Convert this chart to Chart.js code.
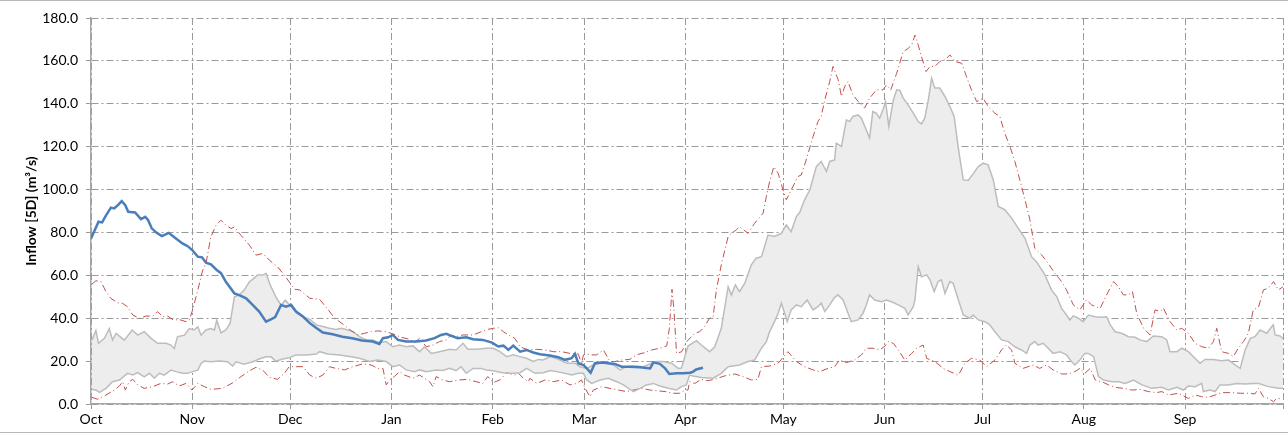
<!DOCTYPE html>
<html>
<head>
<meta charset="utf-8">
<script src="https://cdn.jsdelivr.net/npm/chart.js@4.4.1/dist/chart.umd.min.js"></script>
<style>
html,body{margin:0;padding:0;background:#fff;}
#wrap{width:1288px;height:435px;position:relative;}
</style>
</head>
<body>
<div id="wrap"><canvas id="c" width="1288" height="435"></canvas></div>
<script>
// Month ticks (day index from 1 Oct) and labels
const monthStarts = [0,31,61,92,123,151,182,212,243,273,304,335,365];
const monthLabels = ['Oct','Nov','Dec','Jan','Feb','Mar','Apr','May','Jun','Jul','Aug','Sep',''];

// Current year (blue)
const blueDays = [0,2.3,3.4,4.6,6.1,7.1,8.4,9.4,10.5,11.4,13.5,15.3,16.6,17.5,18.6,20.1,21.7,23.8,26,28,29.6,31,32.7,34,35.2,36.7,38.5,39.8,41.3,43.9,45.4,47.5,49.5,51.5,53.6,55.1,56.4,58.2,59.7,61.3,62.8,64.9,67,69,71,74,77,80,83,86.3,88.3,89.4,91,92.4,94,96.5,99.6,102.6,105.2,107.2,108.8,110.3,112.3,114.9,117,120,122.8,124.7,126.3,127.8,129.3,131.4,133.4,135.4,137.5,140.5,143.1,145.1,147.2,148.2,149.2,150.8,151.8,153,154.3,156.4,158.4,160.4,162.5,165,168.1,171.2,172.2,174.2,175.8,177.1,179.3,181.4,183.4,184.3,185.3,187.4];
const blueVals = [77.2,85,84.7,88,91.6,91.2,93,94.6,92.7,89.6,89.3,86.2,87.3,85.7,81.9,79.8,78.3,79.8,77.2,74.9,73.6,71.8,68.7,68.4,65.9,65.1,62.5,61,57,51.6,50.8,49.3,46.2,43.1,38.4,39.5,40.5,46.2,45.4,46.2,43.1,40.8,37.7,35.4,33.3,32.5,31.4,30.7,29.6,29.1,28,30.7,31.1,32.2,29.9,29.1,29.1,29.6,30.7,32.2,32.7,31.8,30.7,31.1,30.2,29.9,28.6,26.8,27.2,25.2,27.2,24.4,25.2,24,23.2,22.6,21.8,20.6,21.4,23.4,19,18.2,16.6,14.6,19,19.3,19,18.7,17.4,17.4,17.1,16.6,19.4,18.7,16.6,14,14.3,14.3,14.6,15,16.1,16.9];

// Upper grey band edge
const upperDays = [0.3,1.5,2.3,4.1,5.6,6.6,7.7,10.2,12.6,14.3,16.3,18.4,20.4,23,24.5,25.5,26.5,28.6,30.1,31.6,32.7,33.7,35.2,36.7,37.8,38.5,39.8,41.3,42.6,43.9,45.4,46.9,48.5,49.5,51,52.6,53.6,55.1,56.6,58.2,59.5,61.3,62.8,64.9,67,69,71,73,75,76.6,78.7,80.2,82.2,84.3,86.3,88.3,90.4,92.4,94.5,96.5,98.6,100.6,102.1,104.2,106.7,109.8,111.8,113.9,115.4,117.9,121,123.2,125.2,127.3,129.3,131.4,133.4,135.4,137,138.5,140.6,143.1,145.7,148.2,149.7,151.8,153.8,155.9,157.9,160,162,164,166.6,169.1,171.7,173.2,175.2,177.8,179.8,180.8,182.8,185.4,186.9,189.4,191,193,195.1,196.1,197.3,198.6,200.2,202.2,203.7,205.3,207.3,209.3,211.4,212.9,214.4,216,217,218.5,220.1,222.1,223.6,225.2,226.2,227.7,228.2,229.8,231.3,232.3,233.3,234.9,235.9,237.4,238.4,239.4,240.5,241.5,242.5,243.3,244.3,245.7,246.7,247.7,248.7,250.2,251.8,253.3,254.3,255.3,256.4,257.4,258.4,259.9,261.5,263,264.3,265.5,267.1,268.6,270.1,271.7,273.2,274.7,276.3,277.8,279.8,281.9,283.9,286,288,289.5,292.1,294.1,295.7,297.2,298.7,299.7,300.8,302.3,303.8,305.4,307.5,309.5,311,312.1,313.6,315.6,317.7,319.7,321.2,323.3,325.3,327.9,329.4,330.4,332.5,334,336,338.1,339.6,341.1,343.7,346.2,348.3,350.3,351.9,353.4,355,356.4,358,360,362,362.6,364.1,365];
const upperVals = [29.8,34.2,28.3,30.6,35.2,29.8,32.9,29.8,34.5,32.1,33.7,30.6,28.3,28.3,27.5,25.9,31.4,32.1,35.2,34.5,36,32.1,34.5,35.2,34.5,39.1,33.2,34.5,37.6,50,50.8,53.1,57,58.1,60.1,60.1,60.9,54.7,50,46.1,48.4,45.4,42.6,40.7,39.5,36.9,36.1,35.3,34.8,35.3,34.5,33.7,31.4,29.9,29.9,28.6,29.1,26.7,27.5,26.7,27.1,24.4,26.7,23.6,24.4,25.5,25.2,28.3,25.5,25.5,26,26,24.4,22.1,22.9,22.1,21.3,19.8,20.8,20.5,22.1,20.8,19,19,17.4,16.6,18.2,19,19,18.2,15.9,17.4,17.7,17.4,19,19.8,19.8,19,16.6,16.8,27,29.5,27.5,24.4,26.7,35.3,54.7,50.8,55.5,52.4,56.3,64.9,68,68.7,78.8,78.1,79.6,83.5,80.4,87.4,89.3,95.2,99.8,110.7,113.1,108.4,113.1,113.8,121.6,120.1,132.5,131.7,134.1,134.8,133.3,127.8,124,136.4,135.6,133.3,137.2,141,129.4,141.8,146.5,146.2,142.6,139.5,135.6,131.7,130.6,133.3,141.8,151.9,147.3,147.3,143.4,138.7,134.1,120.1,104.5,104.2,107.3,110.7,112.3,111.5,104.5,92.1,90.6,86.7,82,77.3,68.7,66.4,60.2,53.2,50.1,44.6,41.5,39.2,41.1,40,38.4,41.5,40.7,40.4,40.7,36.9,33.7,33,31.4,31.1,29.9,29.1,31.7,31.4,29.9,24.4,24.4,26,24.4,21.2,19,20.8,20.8,20.2,20.5,18.2,16.6,25.2,30.6,31.4,34.5,33,36.9,32.2,31.7,30.6];

// Lower grey band edge
const lowerDays = [0.3,1.5,2.6,4.6,6.6,8.7,11.2,12.8,14.3,16.3,17.9,19.4,20.9,22.4,24.5,26,28.1,29.6,31.1,32.7,33.7,34.7,36.7,39.3,41.8,43.4,44.4,46.9,49.5,51.5,53.6,55.1,56.6,58.7,60.7,62.8,65.9,69,70,72.5,76.1,79.2,82.2,85.3,87.8,90.4,92.4,94.5,96.5,99.1,100.6,102.7,105.7,107.7,109.8,111.8,113.3,114.9,117,119.5,121,123.2,125.2,127.3,129.3,131.4,133.4,136,138.5,140.6,142.6,145.1,147.2,149.2,150.8,151.8,153.3,155.9,158.4,161,163,166.1,168.1,170.1,172.2,174.2,176.8,179.3,180.8,182.3,183.3,184.3,186.9,190.5,193,195.1,198.6,201.2,203.2,205.3,206.8,207.8,209.3,210.4,211.4,212.4,213.2,214.4,216,217.5,219.3,221.1,222.6,223.6,224.7,226.2,227.5,228.7,230.3,231.8,232.8,234.9,236.4,237.4,238.4,240,242,243.6,245.1,247.2,249.2,250.2,251.8,252.3,253.3,254.3,255.9,256.9,258.2,259.4,260.4,261.5,263,264,265.6,267.1,269.1,270.1,271.7,273.7,275.2,276.8,278.8,280.9,282.9,284.9,286.5,287.5,289,290,291.6,293.1,294.6,296.7,298.7,300.2,301.3,302.8,304.3,305.4,307,308.5,310,312.6,314.6,316.7,319.2,321.8,324.8,327.9,329.9,332.5,334.5,336,338.1,340.1,340.6,342.7,344.2,345.7,348.3,350.8,353.4,355.9,357.5,360.5,363.6,365];
const lowerVals = [6.8,6.5,5.4,7.3,10.4,11.2,14.3,13.5,14.6,12.7,14.3,12,14.3,13.5,15.8,15.1,14.3,14.3,15.1,15.8,18.9,20,19.7,20,19.7,17.7,19.7,18.6,19.7,21,22,22,20,21,21.6,22.9,22.9,23.3,24.4,23.3,22.9,22.1,21.3,19.8,20.5,19.8,17.4,18.2,15.9,15.1,15.9,15.1,15.9,15.6,16.6,15.6,17.4,14.3,16.6,16.6,15.9,15.5,14.8,14.3,14.3,14.6,16.6,14.3,14.6,15.6,15.1,14.3,13.5,14.3,14.3,11.2,9.6,11.2,12,10.4,8.9,5.8,7.3,8.9,9.6,8.4,7.3,6.5,8.1,8.9,13.5,13.1,12.4,12,14.3,17.4,18.2,19.8,20.5,26,29.1,33.7,38.4,42.3,47,42.3,38.4,43.9,46.2,45.4,48.5,43.9,45.4,47,43.1,46.2,49.3,50.9,48.5,42.3,38.4,39.2,42.3,46.2,50.9,48.5,47.7,48.5,47.7,46.2,44.6,41.5,45.4,48.5,64,59.3,60.2,57.9,52.4,57.1,57.9,51.6,57.1,56.3,48.5,41.5,40,41.5,39.2,38.4,36.9,33.7,29.9,29.1,26.7,25.2,23.6,27.5,29.1,27.5,28.3,26,23.6,24.4,22.9,19.8,18.2,20.5,23.6,23.6,22.1,12.8,11.2,10.4,10.4,9.6,11.2,8.9,7.3,7.8,6.5,7.8,6.5,8.4,8.1,9.6,5.8,6.5,5.8,8.9,8.9,9.6,9.3,9.6,9.6,8.1,7.3,7.3];

// Maximum (red dash-dot)
const maxDays = [0.3,1.5,3.1,4.6,6.1,8.2,9.7,11.2,12.8,14.8,16.8,18.9,20.4,22,23.5,25.2,27,29.1,30.1,31.1,32.7,34.2,35.2,36.7,38.3,39.8,41.3,42.9,43.9,45.9,48.5,50.5,52.6,54.6,57.1,59.2,61,62.4,63.9,67,70,72.5,74.6,77.1,79.7,81.7,83.8,85.8,87.8,90.4,92.4,95,97.5,99.1,100.6,102.7,104.7,106.7,108.8,110.3,111.8,113.9,117,119.5,121.5,123.2,124.7,126.3,127.8,129.8,131.4,133.9,136.5,139,141.6,144.1,146.7,149.2,150.2,150.8,151.8,153.3,154.8,156.9,158.9,160.4,162.5,165,167,169.6,171.7,174.2,176.3,177.1,177.9,178.5,179.3,180.9,182.4,184.9,186.4,187.9,189.4,190.5,191.5,193,195.1,196.1,197.6,198.6,201.2,203.2,205.8,206.8,207.8,209.1,210.4,211.9,212.9,214.4,216.5,217.5,219,221.1,222.6,223.6,224.7,226.2,227.2,228.8,229.8,230.8,231.8,233.3,234.9,236.9,238.4,240.5,242.5,243.6,244.9,246.7,248.7,250.2,251.3,252.3,253.3,254.3,255.7,256.9,258.4,259.9,261.5,263,264.5,266.6,268.1,269.6,271.2,273.2,274.7,276.8,278.3,279.8,281.4,282.9,284.4,286,287.5,289,291.1,293.1,295.1,297.2,298.7,300.8,302.8,304.8,306.4,309,311,313.1,314.6,316.1,317.7,318.9,320.2,322.3,324.3,325.8,327.4,328.4,330.4,332.5,334,336,338.1,340.1,342.2,343.7,344.7,346.2,348.3,349.8,351.3,352.9,354.4,355.9,357.5,359,360.5,362.1,363.6,365];
const maxVals = [55.9,57.5,57,52.3,49.2,47.2,46.9,45.3,41.5,39.9,41,41,43,40.7,41,39.1,39.4,38.4,39.1,43.8,53.1,62.4,65.5,78,83.4,85.7,83.4,81.8,82.6,78.7,74.1,69.4,70.2,67.1,64,60.1,56.3,53.5,53.2,49.3,48.8,44.2,40,37.3,34.2,32.2,33,33.7,34.1,33.7,32.7,31.1,30.2,28.6,30.6,26.7,27.5,29.1,29.9,32.2,31.4,32.2,32.2,33.7,34.8,35.3,35.6,33.7,32.2,30.6,26.7,25.2,25.5,25.2,24.4,24.4,23.6,23.3,19,22.9,23.3,22.9,22.9,25.2,19.8,19.8,20.5,20.8,22.9,24,25.2,26,27.1,35.3,53.5,43.9,23.6,24.4,29.1,33,33.7,36.1,40,40.7,53.2,64.9,78.1,79.6,81.2,82.7,79.6,84.3,89,96.7,103.7,110.7,107.6,99.8,95.2,99.8,106.1,106.8,113.8,124.7,131.7,134.1,141.8,150.4,157.4,151.2,143.4,148.1,150.4,144.2,141.1,138,142.6,146.5,146.5,148.8,146.5,154.2,164.3,165.8,167.4,172,167.4,162,155,157.4,157.4,159.7,160.5,162.8,159.7,158.9,152.6,146.5,141,142.6,138.7,135.6,134.1,126.3,120.1,113.1,104.5,95.2,85.9,72.6,69.5,65.6,61,57.1,53.2,46.2,43.9,48.5,46.2,44.6,50.9,57.1,54.7,50.9,50.9,52.4,42.3,35.3,32.2,43.9,43.1,44.6,38.4,34.5,35.3,33,28.3,26.7,26,29.1,35.3,24.4,23.6,22.1,26,29.1,33,43.9,45.1,53.2,54,57.1,53.2,54.7];

// Minimum (red dash-dot)
const minDays = [0.3,2,4.6,7.1,8.7,9.7,10.5,11.7,12.8,14.3,16.3,18.9,21.4,23.5,25,27,29.1,30.9,32.7,34.7,36.7,40.3,43.4,45.9,48.5,50.5,52.6,54.6,57.1,59.2,60.7,62.8,64.9,67,69,71,73,75,77.6,80.2,83.2,85.8,87.8,89.4,90.4,91.4,92.9,94.5,96,98.6,100.6,103.7,104.7,105.7,107.7,109.8,112.8,115.4,117.9,120,121.5,123.2,125.2,127.3,129.8,130.9,132.4,133.9,134.4,136.5,139,141.6,144.1,146.7,148.7,150.2,151.3,152.8,153.8,156.4,158.9,161.5,164,166.1,168.6,171.2,173.2,175.8,178.3,180.3,181.9,182.8,183.3,184.9,186.9,188.9,191,194,197.1,199.7,202.2,204.2,205.3,207.8,210.4,213.4,216,218.5,221.1,223.1,225.7,227.7,229.2,231.3,233.8,235.9,237.4,239.4,241.5,243.2,244.1,245.7,247.2,249.2,251.3,252.8,254.8,255.9,258.4,261,263,265.6,267.6,269.6,272.2,274.2,276.8,278.8,280.3,281.9,282.9,285.4,288.5,290.5,292.6,294.6,297.2,299.2,301.3,302.8,304.3,306,307.5,309.5,311.6,313.6,316.1,318.7,321.2,323.8,326.3,327.9,329.9,333,336,338.1,340.1,342.2,344.2,346.2,349.3,351.9,354.4,356.4,357.5,359,360.5,362.1,363.1,364.6];
const minVals = [3.1,2.2,4.2,6.5,8.4,10.4,6.5,10.4,11.5,8.9,7.3,8.1,9.6,9.3,10.4,8.4,9.6,6.5,9.6,8.1,6.8,7.3,9.9,12.7,15.5,17.1,15.8,12.4,11.5,14.3,17.4,17.4,17.4,13.5,12,13.5,17.4,16.6,15.9,17.4,18.7,18.2,16.6,16.6,8.9,11.2,12.8,15.1,13.5,12,13.5,10.4,8.1,12.8,11.2,10.4,11.2,11.5,10.4,9.6,12.8,10,11.2,14.6,13.5,14.3,12,10.4,12,9.6,11.2,10.4,11.2,8.9,9.6,11.2,7.3,3.4,6.5,8.1,7.3,6.5,5.8,6.5,7.3,6.5,6.2,5.8,5,5,6.5,6.5,10.4,9.6,11.5,10.9,11.5,13.1,14,12.8,11.2,11.5,17.4,17.7,19,24.4,19.8,17.4,15.9,15.1,16.6,17.4,20.5,19.3,20.5,22.9,26,26,25.2,27.1,29.1,28.3,25.2,20.5,23.6,26,27.5,21.3,19.8,16.6,15.1,13.5,19,21.3,20.5,17.4,20.5,25.2,27.5,25.2,19,16.6,18.2,16.6,18.2,15.9,14,14,15.1,16.6,14.3,16.6,11.2,10.4,8.9,7.8,7.3,6.5,6.8,5.8,5.3,5.8,4.2,5,2.6,4.2,3.4,3.1,4.2,5.3,5.3,5,5,4.7,7.3,3.4,2.6,1.1,2.6,2.6];

const yTicks = {min: 0, max: 180, step: 20};

function pts(days, vals){ return days.map((d,i)=>({x:d, y:vals[i]})); }

const FONT = "Lato, 'Open Sans', sans-serif";
const redDash = [7,3,1,3];

const borderPlugin = {
  id: 'outerBorder',
  afterDraw(chart){
    const ctx = chart.ctx;
    ctx.save();
    ctx.strokeStyle = '#b8b8b8';
    ctx.lineWidth = 1;
    ctx.beginPath();
    ctx.moveTo(0, 0.5); ctx.lineTo(1288, 0.5);
    ctx.moveTo(0, 432.5); ctx.lineTo(1288, 432.5);
    ctx.stroke();
    ctx.restore();
  }
};

new Chart(document.getElementById('c'), {
  type: 'line',
  data: {
    datasets: [
      {label:'Current', data: pts(blueDays, blueVals), borderColor:'#4a7ebb', borderWidth:2.5, pointRadius:0, fill:false, tension:0},
      {label:'Max', data: pts(maxDays, maxVals), borderColor:'#c0504d', borderWidth:1, borderDash: redDash, pointRadius:0, fill:false, tension:0},
      {label:'Upper', data: pts(upperDays, upperVals), borderColor:'#bdbdbd', borderWidth:1.5, pointRadius:0, fill:'+1', backgroundColor:'#ededed', tension:0},
      {label:'Lower', data: pts(lowerDays, lowerVals), borderColor:'#bdbdbd', borderWidth:1.5, pointRadius:0, fill:false, tension:0},
      {label:'Min', data: pts(minDays, minVals), borderColor:'#c0504d', borderWidth:1, borderDash: redDash, pointRadius:0, fill:false, tension:0}
    ]
  },
  options: {
    responsive: false,
    animation: false,
    devicePixelRatio: 1,
    layout: {padding: {top: 18, right: 5, bottom: 0, left: 0}},
    plugins: {
      legend: {display: false},
      tooltip: {enabled: false},
      filler: {drawTime: 'beforeDatasetsDraw'}
    },
    scales: {
      x: {
        type: 'linear', min: 0, max: 365,
        afterBuildTicks(scale){ scale.ticks = monthStarts.map(v => ({value: v})); },
        afterFit(scale){ scale.height = 31; },
        ticks: {
          autoSkip: false, maxRotation: 0, padding: 2,
          color: '#000', font: {family: FONT, size: 14},
          callback(v){ const i = monthStarts.indexOf(v); return i >= 0 ? monthLabels[i] : ''; }
        },
        grid: {color: '#999999', lineWidth: 1, tickLength: 5, drawTicks: true, tickColor: '#999999'},
        border: {display: true, color: '#a6a6a6', width: 1.5, dash: [7,3,2,3]}
      },
      y: {
        min: yTicks.min, max: yTicks.max,
        afterFit(scale){ scale.width = 91; },
        ticks: {
          stepSize: yTicks.step, padding: 8, color: '#000',
          font: {family: FONT, size: 14},
          callback(v){ return Number(v).toFixed(1); }
        },
        grid: {color: '#999999', lineWidth: 1, tickLength: 5, drawTicks: true, tickColor: '#999999'},
        border: {display: true, color: '#a6a6a6', width: 1.5, dash: [7,3,2,3]},
        title: {display: true, text: 'Inflow [5D] (m³/s)', color: '#000', font: {family: FONT, size: 14, weight: 'bold'}, padding: {top: 23, bottom: 0}}
      }
    }
  },
  plugins: [borderPlugin]
});
</script>
</body>
</html>
